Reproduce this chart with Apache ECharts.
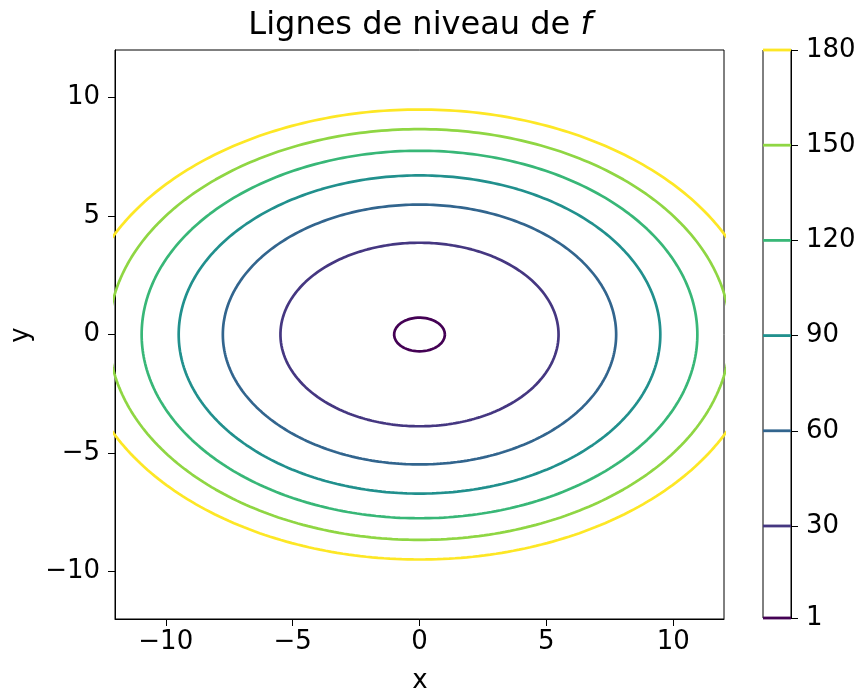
<!DOCTYPE html>
<html>
<head>
<meta charset="utf-8">
<script src="https://cdn.jsdelivr.net/npm/echarts@6/dist/echarts.min.js"></script>
<style>
html,body{margin:0;padding:0;background:#fff;}
#c{width:860px;height:693px;}
</style>
</head>
<body>
<div id="c"></div>
<script>
// Contour levels of f and ellipse semi-axes
var levels = [1, 30, 60, 90, 120, 150, 180];
var semiX = [1.0, 5.48, 7.75, 9.49, 10.95, 12.25, 13.42];
var semiY = [0.71, 3.87, 5.48, 6.71, 7.75, 8.66, 9.49];
var levelColors = ['#440154', '#453781', '#32658e', '#21908d', '#38b777', '#8fd643', '#fde725'];
var xTicks = [-10, -5, 0, 5, 10];
var yTicks = [-10, -5, 0, 5, 10];
var cbTicks = [1, 30, 60, 90, 120, 150, 180];

var FONT = 'DejaVu Sans';
function minus(v){ return String(v).replace('-', '\u2212'); }

function ellipse(a, b){
  var pts = [];
  var n = 360;
  for (var i = 0; i <= n; i++){
    var t = 2 * Math.PI * i / n;
    pts.push([a * Math.cos(t), b * Math.sin(t)]);
  }
  return pts;
}

var series = [];
levels.forEach(function(L, i){
  series.push({
    type: 'line', xAxisIndex: 0, yAxisIndex: 0,
    data: ellipse(semiX[i], semiY[i]),
    showSymbol: false, symbol: 'none', smooth: false, clip: true,
    lineStyle: {color: levelColors[i], width: 2.7},
    silent: true, animation: false, z: 3
  });
  series.push({
    type: 'line', xAxisIndex: 1, yAxisIndex: 1,
    data: [[0, L], [1, L]],
    showSymbol: false, symbol: 'none', clip: false,
    lineStyle: {color: levelColors[i], width: 2.8, cap: 'butt'},
    silent: true, animation: false, z: 1
  });
});

var axisCommon = {
  axisLine: {show: true, onZero: false, lineStyle: {color: '#000', width: 1}},
  axisTick: {show: true, inside: false, length: 7, lineStyle: {color: '#000', width: 1}},
  splitLine: {show: false}
};

var option = {
  backgroundColor: '#fff',
  animation: false,
  grid: [
    {left: 115, right: 136, top: 50, bottom: 74, show: true, borderColor: '#000', borderWidth: 1, backgroundColor: '#fff', outerBoundsMode: 'none', containLabel: false},
    {left: 763, right: 69, top: 50, bottom: 75, show: true, borderColor: '#000', borderWidth: 1, backgroundColor: '#fff', outerBoundsMode: 'none', containLabel: false}
  ],
  xAxis: [
    Object.assign({}, axisCommon, {
      type: 'value', gridIndex: 0, min: -12, max: 12,
      axisTick: Object.assign({}, axisCommon.axisTick, {customValues: xTicks}),
      axisLabel: {customValues: xTicks, color: '#000', fontFamily: FONT, fontSize: 26, margin: 10, formatter: minus}
    }),
    {type: 'value', gridIndex: 1, min: 0, max: 1, show: false}
  ],
  yAxis: [
    Object.assign({}, axisCommon, {
      type: 'value', gridIndex: 0, min: -12, max: 12,
      axisTick: Object.assign({}, axisCommon.axisTick, {customValues: yTicks}),
      axisLabel: {customValues: yTicks, color: '#000', fontFamily: FONT, fontSize: 26, margin: 15, formatter: minus}
    }),
    Object.assign({}, axisCommon, {
      type: 'value', gridIndex: 1, min: 1, max: 180, position: 'right', z: 3,
      axisTick: Object.assign({}, axisCommon.axisTick, {customValues: cbTicks}),
      axisLabel: {customValues: cbTicks, color: '#000', fontFamily: FONT, fontSize: 26, margin: 15}
    })
  ],
  series: series,
  graphic: [
    {type: 'text', x: 420, y: 26, style: {
      text: '{a|Lignes de niveau de }{b|f}',
      align: 'center', verticalAlign: 'middle',
      rich: {
        a: {fontFamily: FONT, fontSize: 32, fill: '#000'},
        b: {fontFamily: FONT, fontSize: 32, fontStyle: 'italic', fill: '#000'}
      }
    }},
    {type: 'text', x: 420, y: 681, style: {
      text: 'x', fontFamily: FONT, fontSize: 26, fill: '#000', align: 'center', verticalAlign: 'middle'
    }},
    {type: 'text', x: 21, y: 335, rotation: Math.PI / 2, style: {
      text: 'y', fontFamily: FONT, fontSize: 26, fill: '#000', align: 'center', verticalAlign: 'middle'
    }}
  ]
};

var chart = echarts.init(document.getElementById('c'), null, {renderer: 'canvas'});
chart.setOption(option);
</script>
</body>
</html>
